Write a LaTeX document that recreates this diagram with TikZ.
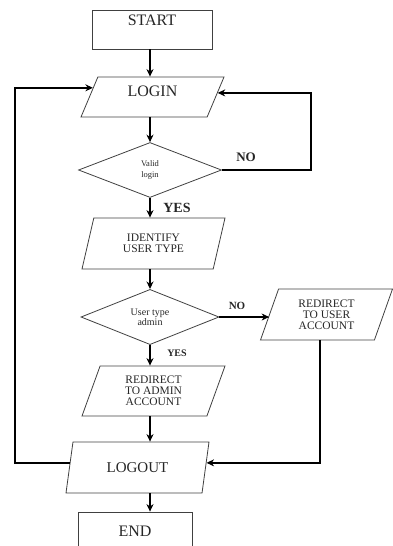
\documentclass[tikz,border=0pt]{standalone}
\usepackage{fontspec}
\setmainfont{Liberation Serif}
\usetikzlibrary{arrows.meta,shapes.geometric,calc}
\newcommand{\flbig}{\fontsize{16}{16}\selectfont}
\newcommand{\flmid}{\fontsize{11.5}{10.8}\selectfont}
\newcommand{\flsmall}{\fontsize{10}{10}\selectfont}
\newcommand{\fltiny}{\fontsize{8.5}{11}\selectfont}

\begin{document}
\begin{tikzpicture}[x=1pt,y=-1pt,
    box/.style={draw=black!75,line width=0.8pt,rectangle,inner sep=0pt,text=black!85,font=\flbig},
    para/.style={draw=black!75,line width=0.8pt,trapezium,trapezium left angle=60,
      trapezium right angle=120,trapezium stretches body,inner sep=1pt,
      minimum height=51,minimum width=143,align=center,text=black!85,font=\flmid},
    dec/.style={draw=black!75,line width=0.8pt,diamond,inner sep=0pt,align=center,text=black!85},
    conn/.style={line width=1.8pt,-{Stealth[length=7.5pt,width=7pt]}},
    lbl/.style={inner sep=0pt,text=black!85}]
  \useasboundingbox (0,0) rectangle (393,546);%
  {
    % start, login
    \node[box,minimum width=120,text height=15,text depth=24] (start) at (152,29.5) {START};%
    \node[para,trapezium left angle=56,trapezium right angle=124,minimum height=40,
      text height=10.5,text depth=12.5,font=\flbig] (login) at (152.5,97) {LOGIN};%
    \node[dec,minimum width=143,minimum height=55,font=\fltiny] (valid) at (150,170) {Valid\\login};%
    \node[lbl,font=\fontsize{13}{13}\selectfont\bfseries] (no1) at (246,157) {NO};%
    \node[lbl,font=\fontsize{14}{14}\selectfont\bfseries] (yes1) at (177,208) {YES};%
  }
  {
    % user type
    \node[para] (ident) at (153.5,243.5) {IDENTIFY\\USER TYPE};%
    \node[dec,minimum width=138,minimum height=54,font=\flsmall] (utype) at (150,317) {User type\\admin};%
    \node[para,minimum width=132] (touser) at (326.5,314.5) {REDIRECT\\TO USER\\ACCOUNT};%
    \node[para,minimum height=50] (toadmin) at (153.5,391) {REDIRECT\\TO ADMIN\\ACCOUNT};%
    \node[lbl,font=\fontsize{11}{11}\selectfont\bfseries] (no2) at (237,306) {NO};%
    \node[lbl,font=\fontsize{10}{10}\selectfont\bfseries] (yes2) at (177,353) {YES};%
  }
  {
    % logout, end
    \node[para,font=\fontsize{15}{15}\selectfont] (logout) at (137.5,467.5) {LOGOUT};%
    \node[box,minimum width=114,text height=24,text depth=12] (end) at (135,530) {END};%
  }
  % main column
  \draw[conn] (valid.north |- start.south) -- (valid.north |- login.north);%
  \draw[conn] (login.south -| valid.north) -- (valid.north);%
  \draw[conn] (valid.south) -- (valid.south |- ident.north);%
  \draw[conn] (ident.south -| utype.north) -- (utype.north);%
  \draw[conn] (utype.south) -- (utype.south |- toadmin.north);%
  \draw[conn] (utype.south |- toadmin.south) -- (utype.south |- logout.north);%
  \draw[conn] (utype.south |- logout.south) -- (utype.south |- end.north);%
  % loops
  \coordinate (loginL) at ($(login.left side)!0.45!(login.top left corner)$);%
  \coordinate (loginR) at ($(login.right side)!0.2!(login.top right corner)$);%
  \coordinate (logoutL) at ($(logout.left side)!0.18!(logout.top left corner)$);%
  \coordinate (logoutR) at ($(logout.right side)!0.18!(logout.top right corner)$);%
  \coordinate (touserB) at ($(touser.bottom left corner)!0.52!(touser.bottom right corner)$);%
  \coordinate (loopL) at (15,275);%
  \coordinate (loopR) at (311,130);%
  \draw[conn] (logoutL) -| (loopL) |- (loginL);%
  \draw[conn] (valid.east) -| (loopR) |- (loginR);%
  \draw[conn] (utype.east) -- (utype.east -| touser.left side);%
  \draw[conn] (touserB) |- (logoutR);%
\end{tikzpicture}
\end{document}
